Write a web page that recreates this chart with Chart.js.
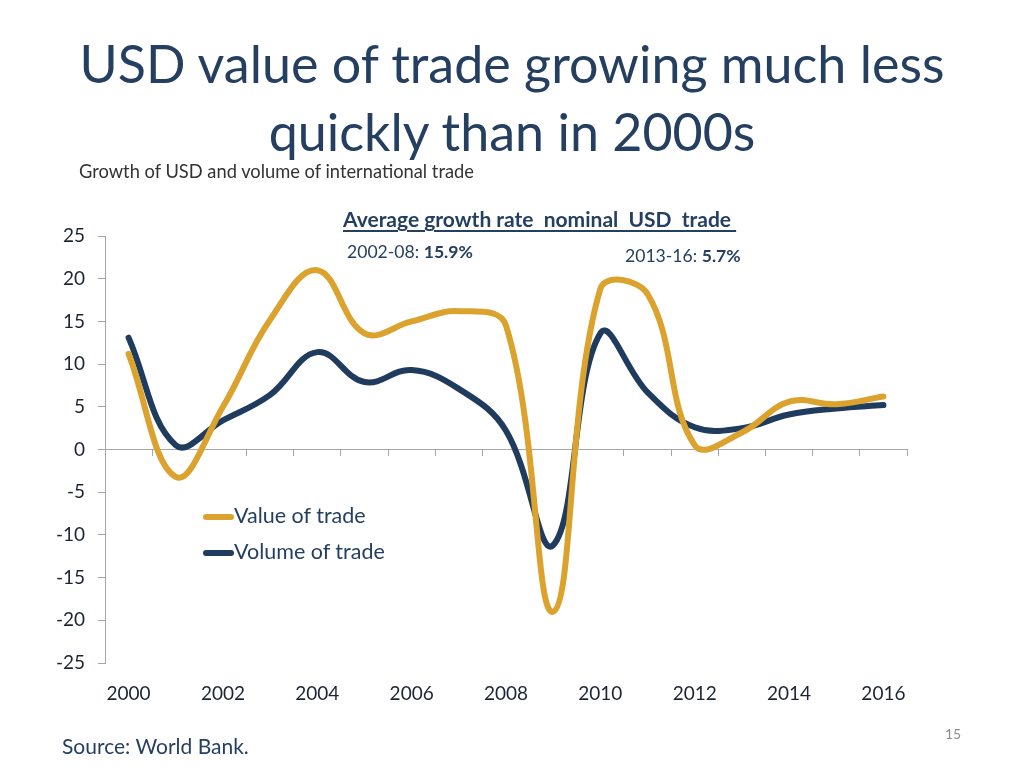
<!DOCTYPE html>
<html>
<head>
<meta charset="utf-8">
<script src="https://cdn.jsdelivr.net/npm/chart.js@4.4.1/dist/chart.umd.min.js"></script>
<style>
  html, body { margin: 0; padding: 0; background: #ffffff; }
  #wrap { position: relative; width: 1024px; height: 768px; overflow: hidden; font-family: Lato, "Open Sans", sans-serif; }
  #c { position: absolute; left: 0; top: 0; }
  .t { position: absolute; white-space: nowrap; }
  #title { left: 0; width: 1024px; top: 29px; text-align: center; font-size: 52px; line-height: 68px; color: #243F60; }
  #sub { left: 79px; top: 160px; font-size: 18.3px; color: #333333; }
  #avg { left: 343px; top: 206px; font-size: 21px; font-weight: bold; color: #243F60; text-decoration: underline; text-underline-offset: 3px; }
  #a1 { left: 347px; top: 241px; font-size: 17.6px; color: #243F60; }
  #a2 { left: 625px; top: 245px; font-size: 17.6px; color: #243F60; }
  .leg { position: absolute; font-size: 21.5px; color: #243F60; white-space: nowrap; }
  .sw { display: inline-block; width: 31px; height: 6px; border-radius: 3px; vertical-align: middle; margin-right: 0px; position: relative; top: -1px; }
  #src { left: 62px; top: 733px; font-size: 21px; color: #243F60; }
  #pg { left: 945px; top: 725px; font-size: 14px; color: #8c8c8c; }
</style>
</head>
<body>
<div id="wrap">
  <canvas id="c" width="1024" height="768"></canvas>
  <div class="t" id="title">USD value of trade growing much less<br>quickly than in 2000s</div>
  <div class="t" id="sub">Growth of USD and volume of international trade</div>
  <div class="t" id="avg">Average growth rate&nbsp; nominal&nbsp; USD&nbsp; trade&nbsp;</div>
  <div class="t" id="a1">2002-08: <b>15.9%</b></div>
  <div class="t" id="a2">2013-16: <b>5.7%</b></div>
  <div class="leg" style="left:203px; top:502px;"><span class="sw" style="background:#DBA22E"></span>Value of trade</div>
  <div class="leg" style="left:203px; top:538px;"><span class="sw" style="background:#1F3B5E"></span>Volume of trade</div>
  <div class="t" id="src">Source: World Bank.</div>
  <div class="t" id="pg">15</div>
</div>
<script>
const years = ['2000','2001','2002','2003','2004','2005','2006','2007','2008','2009','2010','2011','2012','2013','2014','2015','2016'];
const valueOfTrade  = [11.2, -3.2, 5.0, 15.2, 21.0, 13.6, 15.0, 16.2, 14.5, -19.0, 18.8, 18.2, 0.5, 2.0, 5.6, 5.3, 6.2];
const volumeOfTrade = [13.1, 0.5, 3.4, 6.4, 11.4, 7.9, 9.3, 7.1, 2.2, -11.2, 13.6, 6.7, 2.6, 2.5, 4.1, 4.8, 5.2];
const yMin = -25, yMax = 25, yStep = 5;

const tickFont = { family: 'Lato, "Open Sans", sans-serif', size: 19 };
const tickColor = '#1d2433';
const axisGray = '#a6a6a6';

new Chart(document.getElementById('c'), {
  type: 'line',
  data: {
    labels: years,
    datasets: [
      { label: 'Value of trade', data: valueOfTrade, borderColor: '#DBA22E', backgroundColor: '#DBA22E', borderWidth: 6, pointRadius: 0, tension: 0.4, borderCapStyle: 'round', borderJoinStyle: 'round' },
      { label: 'Volume of trade', data: volumeOfTrade, borderColor: '#1F3B5E', backgroundColor: '#1F3B5E', borderWidth: 6, pointRadius: 0, tension: 0.4, borderCapStyle: 'round', borderJoinStyle: 'round' }
    ]
  },
  options: {
    responsive: false,
    animation: false,
    layout: { padding: { left: 0, right: 117, top: 236, bottom: 55 } },
    plugins: { legend: { display: false }, tooltip: { enabled: false } },
    scales: {
      x: {
        type: 'category',
        position: 'bottom',
        offset: true,
        grid: { display: false },
        border: { display: false },
        ticks: {
          autoSkip: false, maxRotation: 0, padding: 11, color: tickColor, font: tickFont,
          callback: (v, i) => (i % 2 === 0 ? years[i] : '')
        },
        afterFit: s => { s.height = 50; }
      },
      xZero: {
        type: 'category',
        position: { y: 0 },
        offset: true,
        grid: { offset: true, drawOnChartArea: false, drawTicks: true, tickLength: 6, color: axisGray, lineWidth: 1 },
        border: { display: true, color: axisGray, width: 1 },
        ticks: { display: false }
      },
      y: {
        min: yMin, max: yMax,
        ticks: { stepSize: yStep, padding: 13, color: tickColor, font: tickFont },
        grid: { drawOnChartArea: false, drawTicks: true, tickLength: 7, color: axisGray },
        border: { display: true, color: axisGray, width: 1 },
        afterFit: s => { s.width = 105; }
      }
    }
  }
});
</script>
</body>
</html>
